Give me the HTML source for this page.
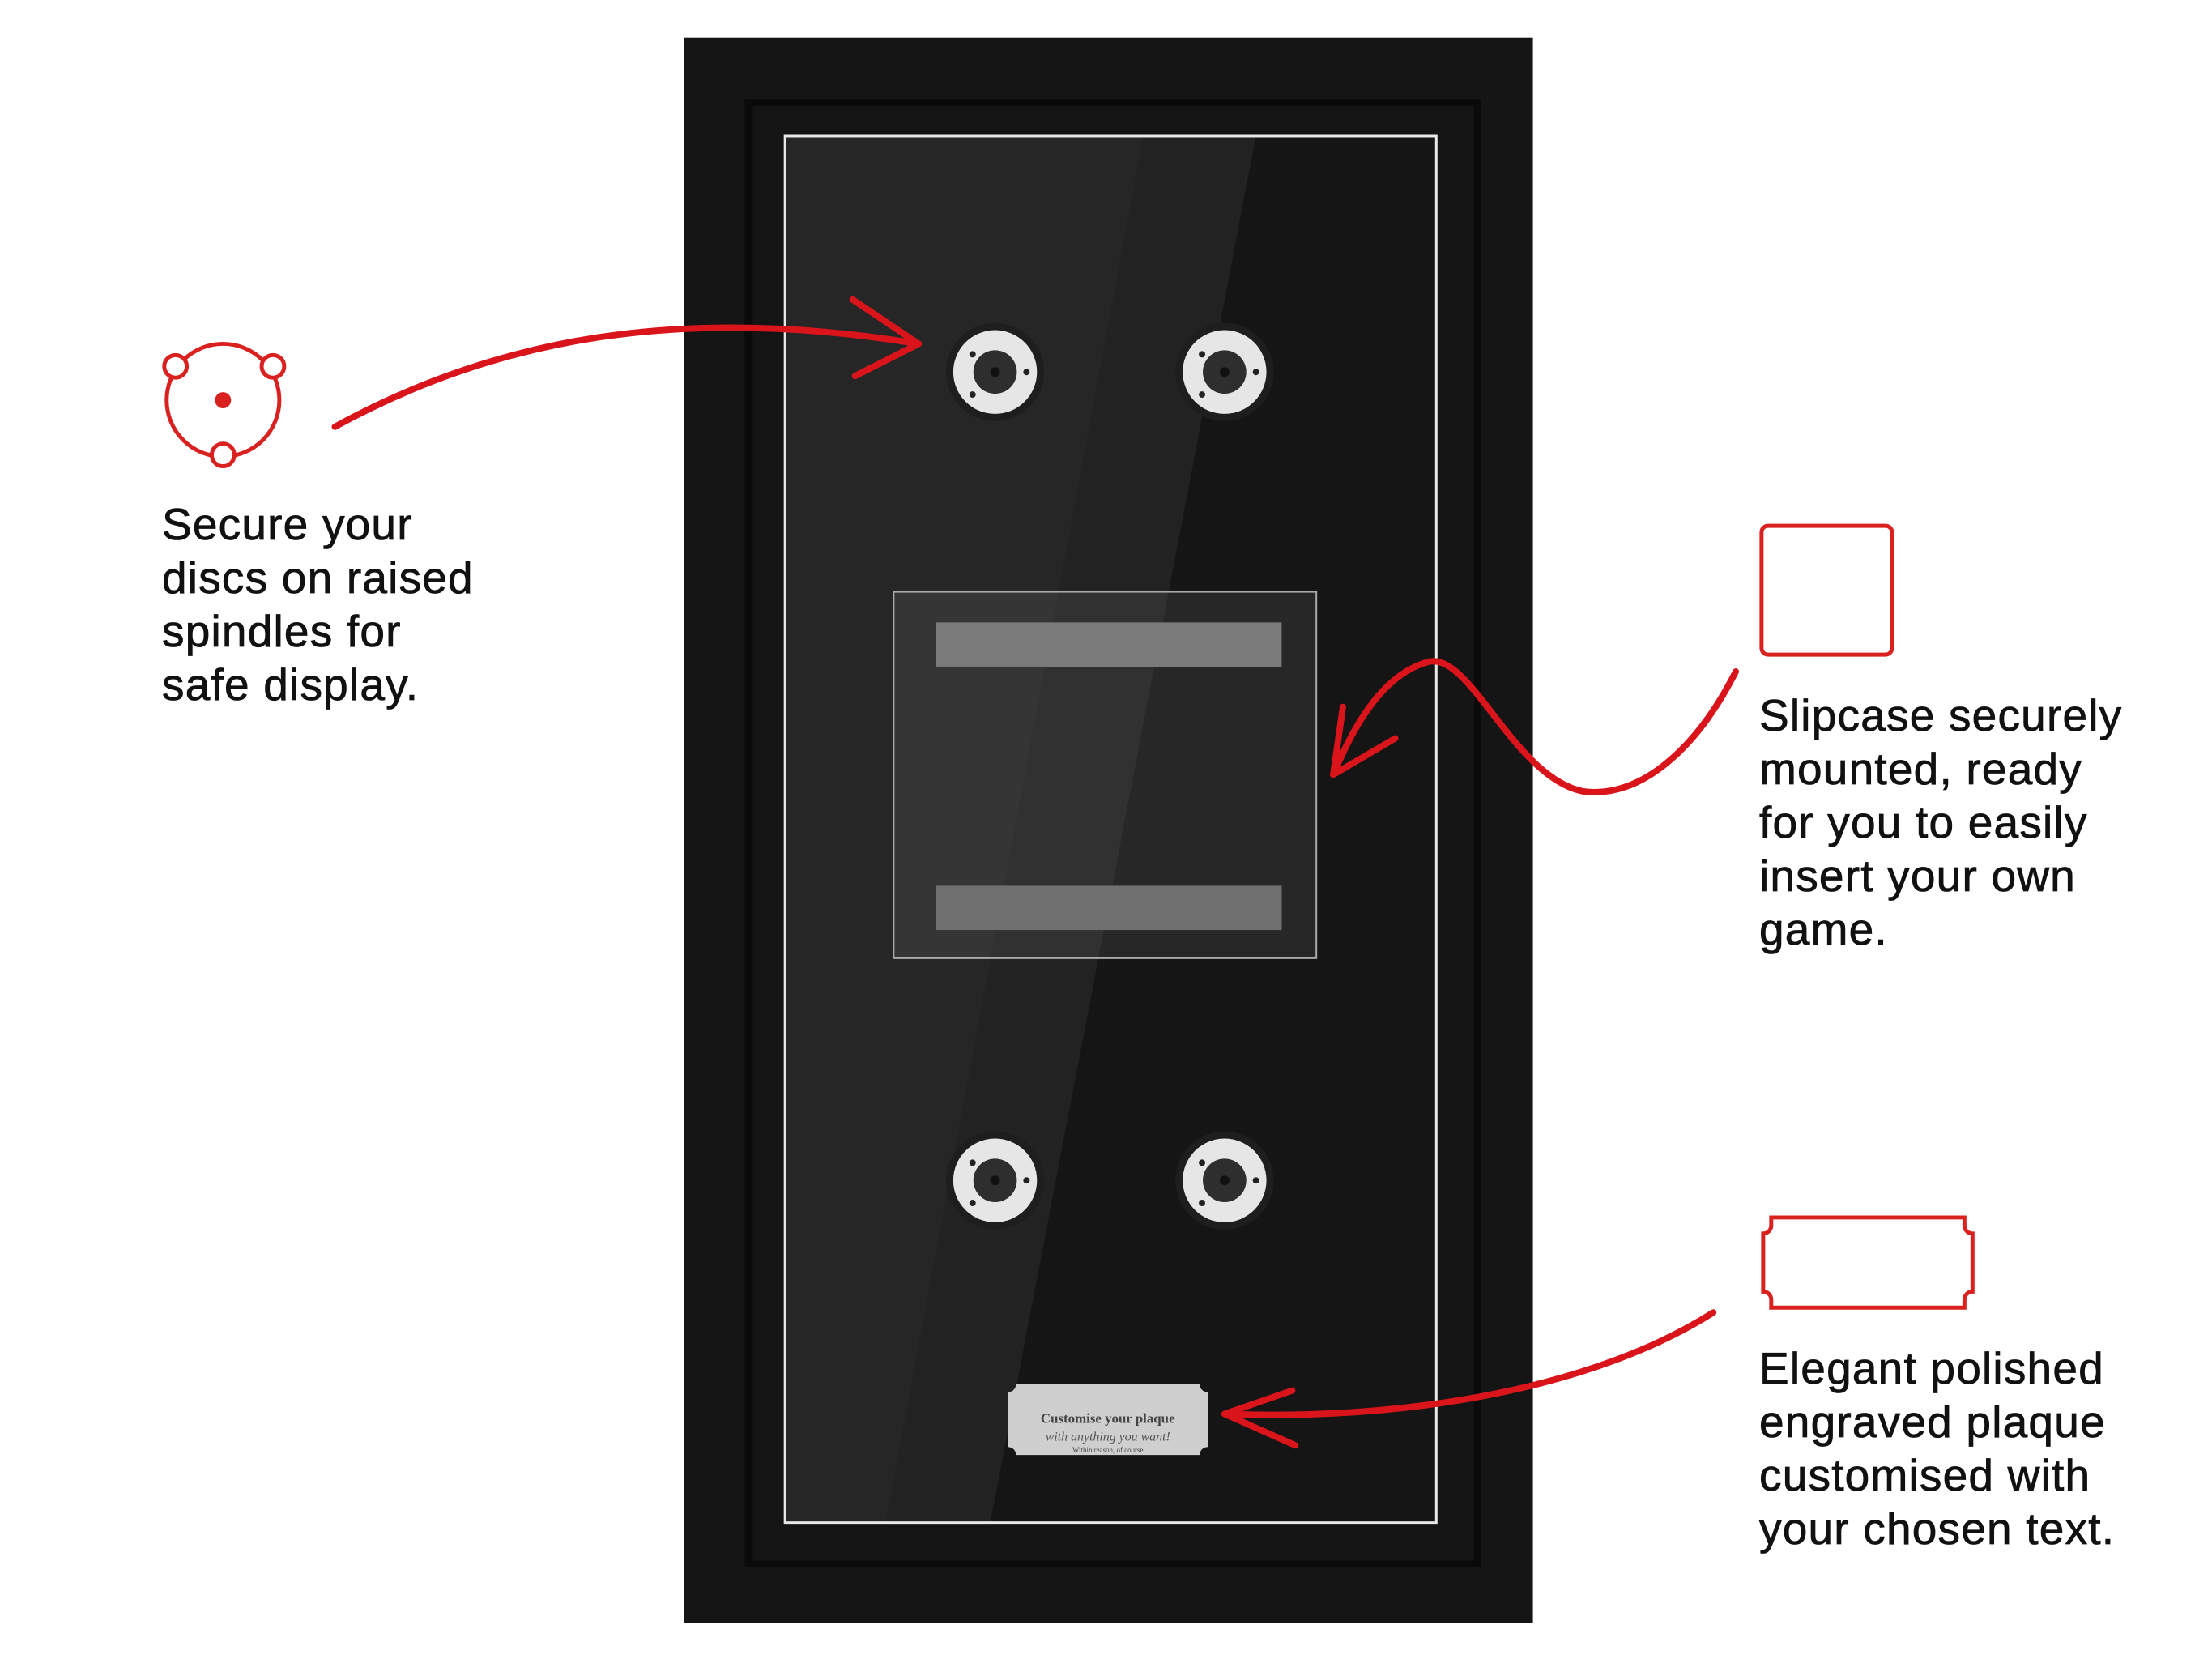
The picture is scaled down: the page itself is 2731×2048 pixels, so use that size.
<!DOCTYPE html>
<html><head><meta charset="utf-8"><style>
html,body{margin:0;padding:0;background:#fff;}
body{width:2731px;height:2048px;position:relative;overflow:hidden;font-family:"Liberation Sans",sans-serif;}
.t{position:absolute;font-size:55px;line-height:66px;color:#111;font-weight:500;letter-spacing:1.2px;-webkit-text-stroke:0.8px #111;}
</style></head><body>
<svg width="2731" height="2048" style="position:absolute;left:0;top:0">
<g transform="scale(0.994)">
<!-- frame -->
<rect x="850" y="47" width="1054" height="1969" fill="#151515"/>
<rect x="925" y="123" width="914" height="1823" fill="#0a0a0a"/>
<rect x="935" y="132" width="896" height="1806" fill="#141414"/>
<!-- glare -->
<polygon points="975,169 1784,169 1784,1891 975,1891" fill="#151515"/>
<polygon points="975,169 1560,169 1230,1891 975,1891" fill="#222"/>
<polygon points="975,169 1420,169 1100,1891 975,1891" fill="#262626"/>
<rect x="975" y="169" width="809" height="1722" fill="none" stroke="#e8e8e8" stroke-width="3"/>
<!-- spindles -->
<g id="s">
<circle cx="1236" cy="462" r="61" fill="#1e1e1e"/>
<circle cx="1236" cy="462" r="52" fill="#e6e6e6"/>
<circle cx="1236" cy="462" r="27" fill="#2e2e2e"/>
<circle cx="1236" cy="462" r="6" fill="#111"/>
<circle cx="1208" cy="440" r="4" fill="#222"/><circle cx="1275" cy="462" r="4" fill="#222"/><circle cx="1208" cy="490" r="4" fill="#222"/>
</g>
<use href="#s" x="285" y="0"/><use href="#s" x="0" y="1004"/><use href="#s" x="285" y="1004"/>
<!-- slipcase -->
<rect x="1110" y="735" width="525" height="455" fill="rgba(120,120,120,0.18)" stroke="#aaa" stroke-width="2"/>
<rect x="1162" y="773" width="430" height="55" fill="#7a7a7a"/>
<rect x="1162" y="1100" width="430" height="55" fill="#707070"/>
<!-- plaque -->
<path d="M1262,1719 H1490 A10,10 0 0 0 1500,1729 V1797 A10,10 0 0 0 1490,1807 H1262 A10,10 0 0 0 1252,1797 V1729 A10,10 0 0 0 1262,1719 Z" fill="#cfcfcf"/>
<text x="1376" y="1767" text-anchor="middle" font-family="Liberation Serif" font-weight="bold" font-size="17" fill="#444">Customise your plaque</text>
<text x="1376" y="1789" text-anchor="middle" font-family="Liberation Serif" font-style="italic" font-size="16" fill="#555">with anything you want!</text>
<text x="1376" y="1804" text-anchor="middle" font-family="Liberation Serif" font-size="9" fill="#444">Within reason, of course</text>
<!-- icons -->
<g fill="none" stroke="#d9221f" stroke-width="5">
<circle cx="277" cy="497" r="70"/>
<circle cx="218" cy="455" r="14" fill="#fff"/><circle cx="339" cy="455" r="14" fill="#fff"/><circle cx="277" cy="565" r="14" fill="#fff"/>
<rect x="2188" y="653" width="162" height="160" rx="8"/>
<path d="M2200,1512 H2440 V1522 A10,10 0 0 0 2450,1532 V1604 A10,10 0 0 0 2440,1614 V1624 H2200 V1614 A10,10 0 0 0 2190,1604 V1532 A10,10 0 0 0 2200,1522 Z"/>
</g>
<circle cx="277" cy="497" r="10" fill="#d9221f"/>
<!-- arrows -->
<g fill="none" stroke="#d9141b" stroke-width="8" stroke-linecap="round" stroke-linejoin="round">
<path d="M416,530 C615,421 843,378 1141,427"/>
<path d="M1059,372 L1141,427 L1062,467"/>
<path d="M2156,834 C2107,931 2037,992 1967,983 C1880,966 1826,808 1774,822 C1712,839 1677,913 1656,962"/>
<path d="M1733,917 L1656,962 L1668,878"/>
<path d="M2128,1630 C1985,1721 1756,1765 1521,1756"/>
<path d="M1605,1727 L1521,1756 L1609,1795"/>
</g>
</g>
</svg>
<div class="t" style="left:200px;top:614px">Secure your<br>discs on raised<br>spindles for<br>safe display.</div>
<div class="t" style="left:2172px;top:850px">Slipcase securely<br>mounted, ready<br>for you to easily<br>insert your own<br>game.</div>
<div class="t" style="left:2172px;top:1656px">Elegant polished<br>engraved plaque<br>customised with<br>your chosen text.</div>
</body></html>
